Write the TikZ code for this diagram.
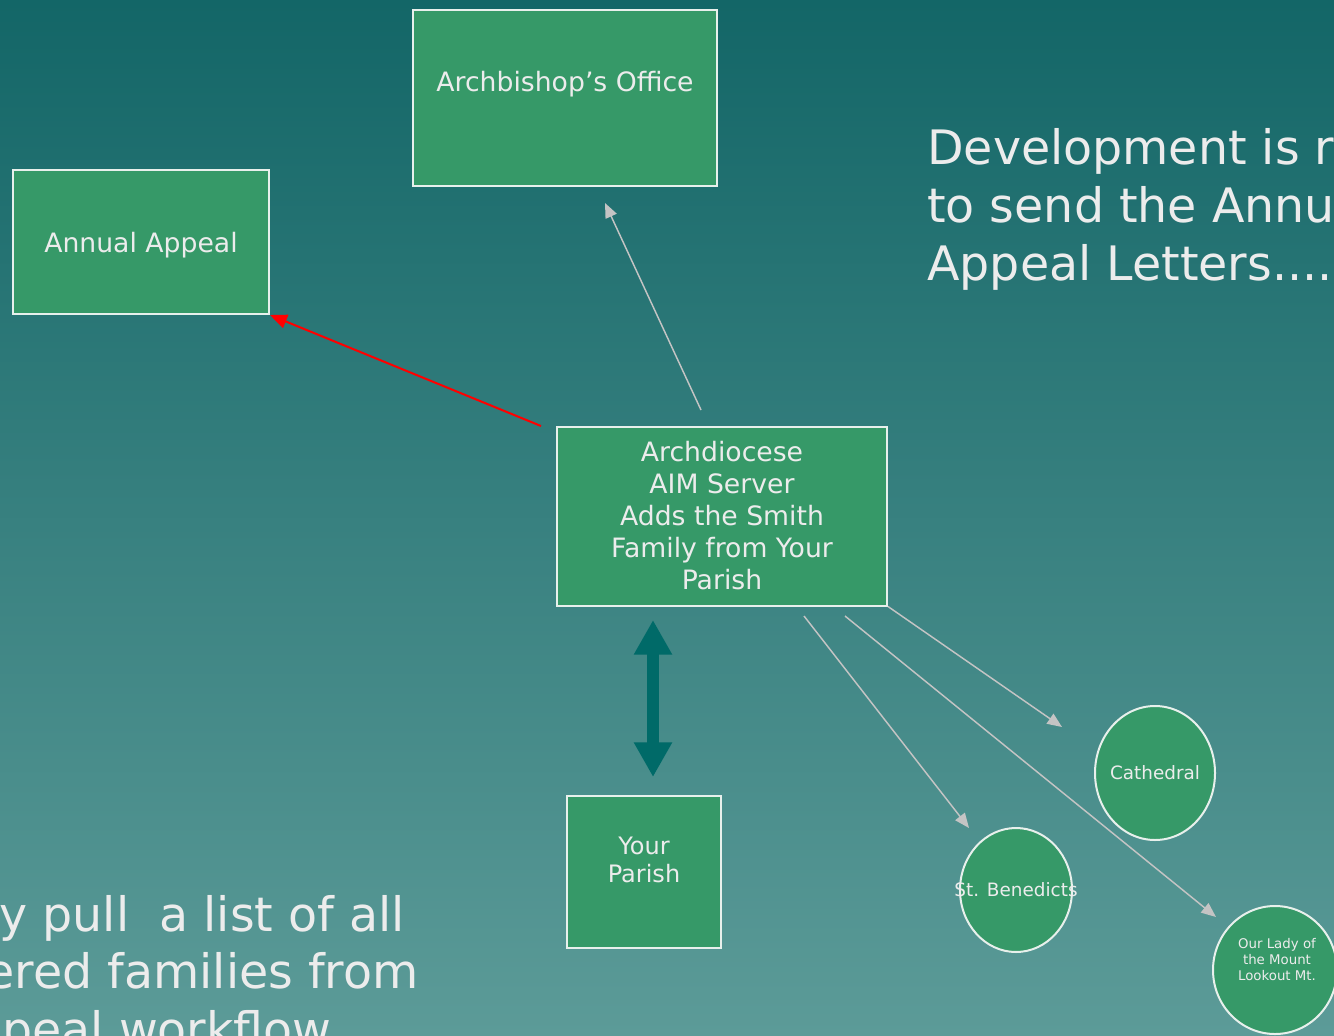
\documentclass[tikz,border=0pt]{standalone}
\usepackage{fontspec}
\setmainfont{DejaVu Sans}
\usetikzlibrary{arrows.meta,shapes.geometric}

\definecolor{slidetop}{RGB}{19,102,103}
\definecolor{slidebottom}{RGB}{92,155,152}
\definecolor{boxgreen}{RGB}{54,153,104}
\definecolor{boxline}{RGB}{232,240,236}
\definecolor{slidetext}{RGB}{236,236,236}
\definecolor{linkgray}{RGB}{196,196,196}
\definecolor{syncteal}{RGB}{0,106,104}

\tikzset{
	box/.style={draw=boxline, fill=boxgreen, line width=1.5pt, inner sep=0pt, text=slidetext},
	parishcircle/.style={ellipse, draw=boxline, fill=boxgreen, line width=1.5pt, inner sep=0pt,
			text=slidetext, font=\fontsize{13.8}{16}\selectfont},
	boxtext/.style={inner sep=0pt, text=slidetext},
	bigtext/.style={inner sep=0pt, text=slidetext, align=left, font=\fontsize{35.6}{43.5}\selectfont},
	graylink/.style={draw=linkgray, line width=1.1pt, -{Triangle[length=11pt,width=9pt]}},
	redlink/.style={draw=red, line width=1.5pt, -{Triangle[length=12.75pt,width=10.5pt]}},
	syncarrow/.style={draw=syncteal, line width=9pt,
			{Triangle[length=26pt,width=27pt]}-{Triangle[length=26pt,width=27pt]}}
}

\begin{document}
\begin{tikzpicture}[x=0.75pt, y=-0.75pt, font=\fontsize{20}{24}\selectfont]
	% slide background
	\useasboundingbox (0,0) rectangle (1334,1035);
	\clip (0,0) rectangle (1334,1035);
	\shade[top color=slidetop, bottom color=slidebottom] (0,0) rectangle (1334,1035);

	% boxes
	\node[box, minimum width=228pt, minimum height=132pt] (office) at (565,98) {};
	\node[boxtext] (officetext) at (565,84.5) {Archbishop's Office};
	\node[box, minimum width=192pt, minimum height=108pt, text depth=0pt] (appeal) at (141,242) {Annual Appeal};
	\node[box, minimum width=247.5pt, minimum height=134.25pt, align=center] (server) at (722,516)
	{Archdiocese\\AIM Server\\Adds the Smith\\Family from Your\\Parish};
	\node[box, minimum width=115.5pt, minimum height=114pt] (parish) at (644,872) {};
	\node[boxtext, align=center, font=\fontsize{18}{21}\selectfont] (parishtext) at (644,860) {Your\\Parish};

	% the parishes
	\node[parishcircle, minimum width=90pt, minimum height=100.5pt] (cathedral) at (1155,773) {\makebox[0pt]{Cathedral}};
	\node[parishcircle, minimum width=84pt, minimum height=93pt] (benedicts) at (1016,890) {\makebox[0pt]{St. Benedicts}};
	\node[parishcircle, minimum width=93pt, minimum height=96pt] (ladymount) at (1275,970) {};
	\node[boxtext, align=center, font=\fontsize{10}{12}\selectfont] (ladytext) at (1277,960)
	{Our Lady of\\the Mount\\Lookout Mt.};

	% links
	\coordinate (redfrom) at (541,426);
	\draw[redlink] (redfrom) -- (appeal.south east);

	\coordinate (officefrom) at (701,410);
	\coordinate (officeto) at (605,203);
	\draw[graylink] (officefrom) -- (officeto);

	\coordinate (cathedralin) at (1062,727);
	\draw[graylink] (server.south east) -- (cathedralin);
	\coordinate (ladyfrom) at (845,616);
	\coordinate (ladyin) at (1216,917);
	\draw[graylink] (ladyfrom) -- (ladyin);
	\coordinate (benfrom) at (804,616);
	\coordinate (benin) at (969,828);
	\draw[graylink] (benfrom) -- (benin);

	% two way sync with your parish
	\coordinate (syncup) at (653,620);
	\coordinate (syncdown) at (653,777);
	\draw[syncarrow] (syncup) -- (syncdown);

	% slide texts
	\node[bigtext, anchor=north west] (devnote) at (927,128)
	{Development is r\\to send the Annu\\Appeal Letters.....};
	\node[bigtext, anchor=base east] (pullone) at (405,931) {y pull\ \ a list of all};
	\node[bigtext, anchor=base east] (pulltwo) at (419,988) {ered families from};
	\node[bigtext, anchor=base east] (pullthree) at (332,1046) {peal workflow};
\end{tikzpicture}
\end{document}
